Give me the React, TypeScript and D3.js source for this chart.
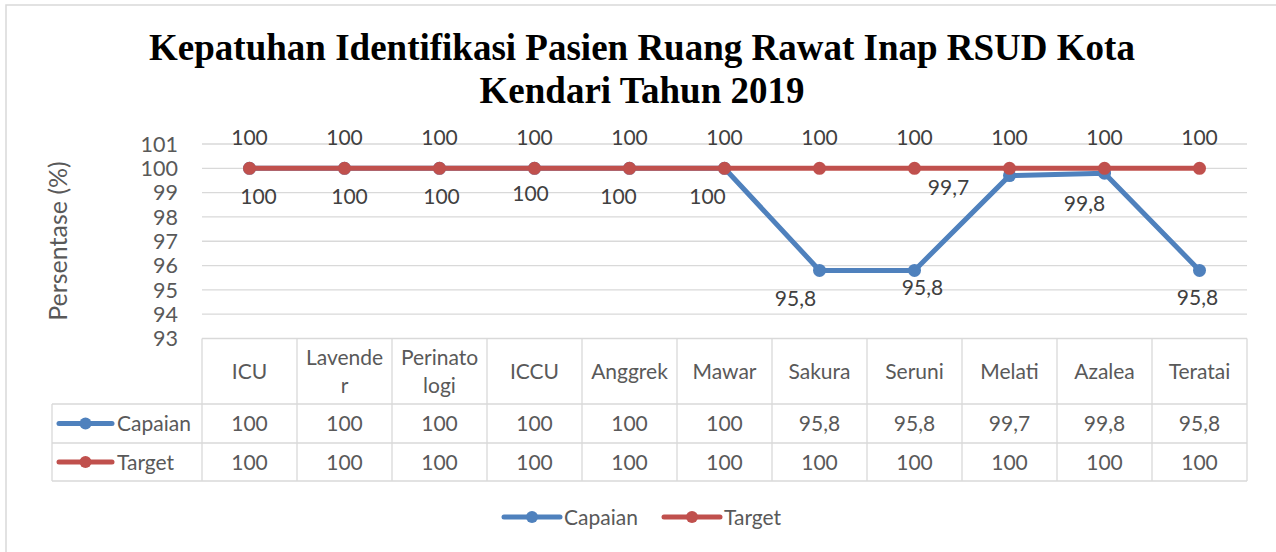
import React from "react";
import * as d3 from "d3";

const categories = ["ICU", "Lavender", "Perinatologi", "ICCU", "Anggrek", "Mawar", "Sakura", "Seruni", "Melati", "Azalea", "Teratai"];
const categoryLines = [["ICU"], ["Lavende", "r"], ["Perinato", "logi"], ["ICCU"], ["Anggrek"], ["Mawar"], ["Sakura"], ["Seruni"], ["Melati"], ["Azalea"], ["Teratai"]];
const capaian = [100, 100, 100, 100, 100, 100, 95.8, 95.8, 99.7, 99.8, 95.8];
const target = [100, 100, 100, 100, 100, 100, 100, 100, 100, 100, 100];
const yTicks = [93, 94, 95, 96, 97, 98, 99, 100, 101];
const capaianLabelOffsets = [[9, 28], [5, 28], [2, 28], [-4, 25], [-11, 28], [-17, 28], [-24, 28], [8, 17], [-61, 12], [-20, 30], [-2, 27]];

const fmt = (v: number) => String(v).replace(".", ",");

const BLUE = "#4F81BD";
const RED = "#C0504D";
const GRID = "#D9D9D9";
const TXT = "#595959";
const FONT = "Lato, 'Open Sans', sans-serif";

export default function App() {
  const left = 202, right = 1247;
  const x = d3.scaleBand<string>().domain(categories).range([left, right]);
  const y = d3.scaleLinear().domain([93, 101]).range([338.5, 144]);
  const cx = (i: number) => (x(categories[i]) as number) + x.bandwidth() / 2;
  const line = d3.line<number>().x((_, i) => cx(i)).y((d) => y(d));
  const tableTop = y(93);
  const hdrBottom = 404, row1Bottom = 443, row2Bottom = 481;
  const legendLeft = 52;

  const series = [
    { name: "Capaian", values: capaian, color: BLUE },
    { name: "Target", values: target, color: RED },
  ];

  return (
    <svg width={1276} height={552} style={{ position: "absolute", left: 0, top: 0, background: "#fff" }} fontFamily={FONT}>
      <rect x={6} y={5} width={1300} height={600} fill="#fff" stroke={GRID} strokeWidth={1.5} />
      <text x={642} y={60} textAnchor="middle" fontFamily="'Liberation Serif', 'Times New Roman', serif" fontWeight="bold" fontSize={37} fill="#000">
        Kepatuhan Identifikasi Pasien Ruang Rawat Inap RSUD Kota
      </text>
      <text x={642} y={103} textAnchor="middle" fontFamily="'Liberation Serif', 'Times New Roman', serif" fontWeight="bold" fontSize={37} fill="#000">
        Kendari Tahun 2019
      </text>

      {/* gridlines */}
      {yTicks.filter((t) => t > 93).map((t) => (
        <line key={t} x1={left} x2={right} y1={y(t)} y2={y(t)} stroke={GRID} strokeWidth={1.3} />
      ))}
      {/* y tick labels */}
      {yTicks.map((t) => (
        <text key={t} x={178} y={y(t)} dy="0.36em" textAnchor="end" fontSize={21.5} fill={TXT}>{t}</text>
      ))}
      <text transform={`translate(58,241) rotate(-90)`} dy="0.36em" textAnchor="middle" fontSize={25} fill={TXT}>Persentase (%)</text>

      {/* table */}
      <g stroke={GRID} strokeWidth={1.3} fill="none">
        <line x1={left} x2={right} y1={tableTop} y2={tableTop} />
        <line x1={legendLeft} x2={right} y1={hdrBottom} y2={hdrBottom} />
        <line x1={legendLeft} x2={right} y1={row1Bottom} y2={row1Bottom} />
        <line x1={legendLeft} x2={right} y1={row2Bottom} y2={row2Bottom} />
        <line x1={legendLeft} x2={legendLeft} y1={hdrBottom} y2={row2Bottom} />
        {categories.map((c) => (
          <line key={c} x1={x(c)} x2={x(c)} y1={tableTop} y2={row2Bottom} />
        ))}
        <line x1={right} x2={right} y1={tableTop} y2={row2Bottom} />
      </g>
      {categoryLines.map((ls, i) => (
        <text key={i} x={cx(i)} textAnchor="middle" fontSize={21} fill={TXT}>
          {ls.map((l, j) => (
            <tspan key={j} x={cx(i)} y={(tableTop + hdrBottom) / 2 + (j - (ls.length - 1) / 2) * 28} dy="0.36em">{l}</tspan>
          ))}
        </text>
      ))}
      {series.map((s, si) => {
        const rowMid = si === 0 ? (hdrBottom + row1Bottom) / 2 : (row1Bottom + row2Bottom) / 2;
        return (
          <g key={s.name}>
            <line x1={59} x2={112} y1={rowMid} y2={rowMid} stroke={s.color} strokeWidth={5} strokeLinecap="round" />
            <circle cx={85.5} cy={rowMid} r={6} fill={s.color} />
            <text x={117} y={rowMid} dy="0.36em" fontSize={21} fill={TXT}>{s.name}</text>
            {s.values.map((v, i) => (
              <text key={i} x={cx(i)} y={rowMid} dy="0.36em" textAnchor="middle" fontSize={21} fill={TXT}>{fmt(v)}</text>
            ))}
          </g>
        );
      })}

      {/* lines */}
      {series.map((s) => (
        <g key={s.name}>
          <path d={line(s.values) as string} fill="none" stroke={s.color} strokeWidth={5} strokeLinejoin="round" />
          {s.values.map((v, i) => (
            <circle key={i} cx={cx(i)} cy={y(v)} r={6.5} fill={s.color} />
          ))}
        </g>
      ))}
      {/* data labels */}
      {target.map((v, i) => (
        <text key={i} x={cx(i)} y={y(v) - 31} dy="0.36em" textAnchor="middle" fontSize={21} fill="#404040">{fmt(v)}</text>
      ))}
      {capaian.map((v, i) => (
        <text key={i} x={cx(i) + capaianLabelOffsets[i][0]} y={y(v) + capaianLabelOffsets[i][1]} dy="0.36em" textAnchor="middle" fontSize={21} fill="#404040">{fmt(v)}</text>
      ))}

      {/* bottom legend */}
      {series.map((s, si) => {
        const lx = si === 0 ? 504 : 664;
        return (
          <g key={s.name}>
            <line x1={lx} x2={lx + 56} y1={517} y2={517} stroke={s.color} strokeWidth={5} strokeLinecap="round" />
            <circle cx={lx + 28} cy={517} r={6} fill={s.color} />
            <text x={lx + 60} y={517} dy="0.36em" fontSize={21} fill={TXT}>{s.name}</text>
          </g>
        );
      })}
    </svg>
  );
}
